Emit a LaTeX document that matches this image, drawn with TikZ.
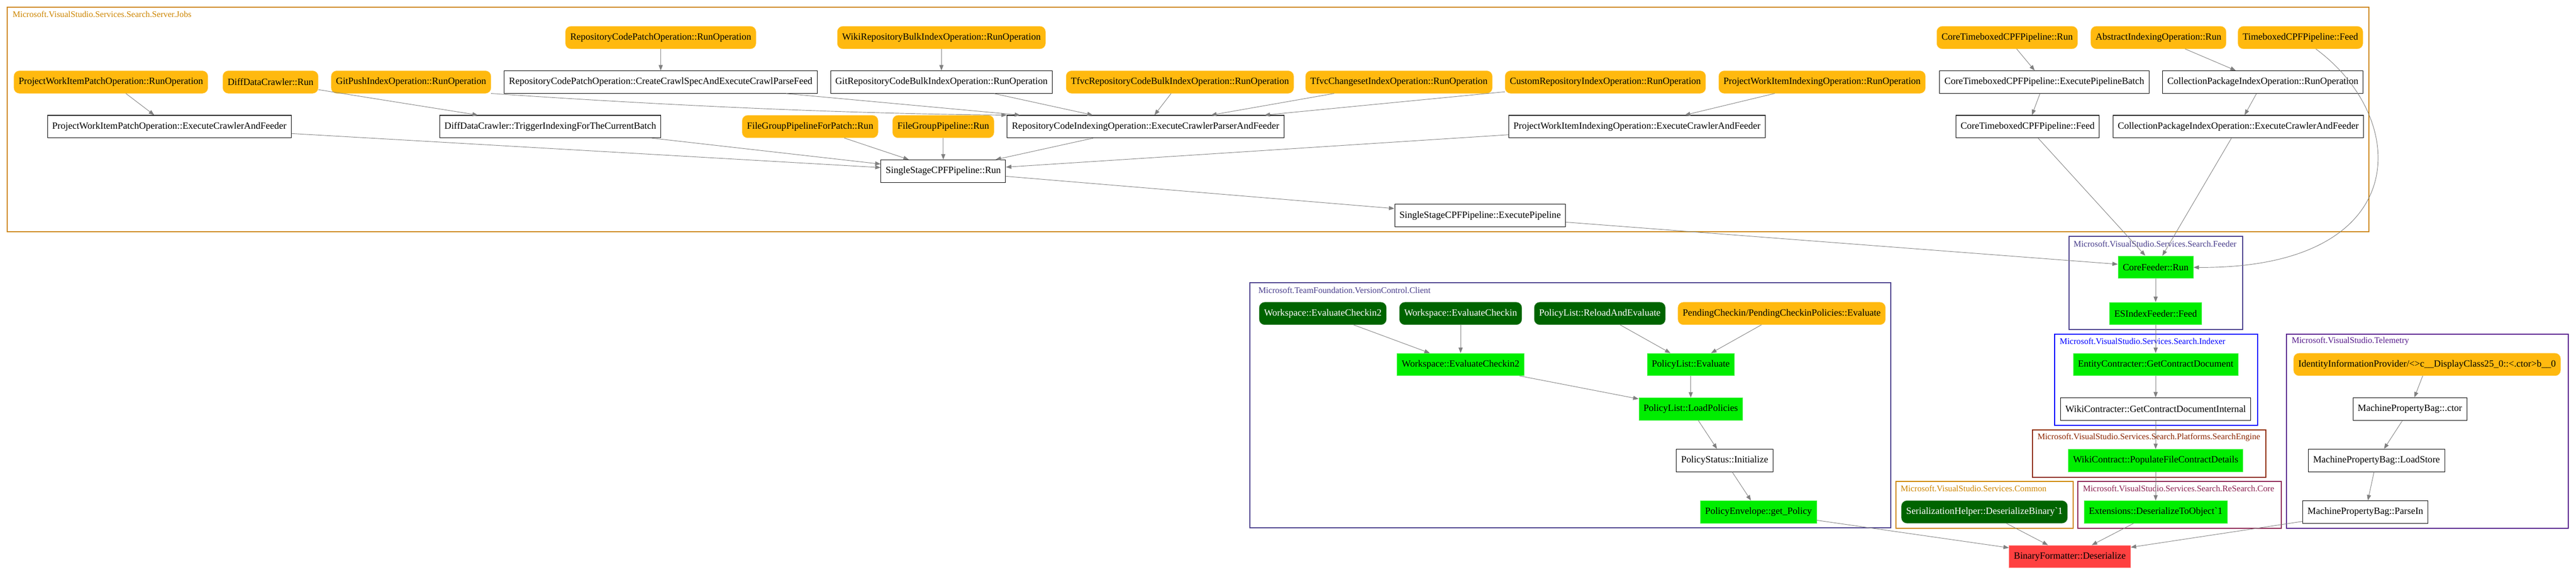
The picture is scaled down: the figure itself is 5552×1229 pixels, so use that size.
\documentclass[tikz,border=0pt]{standalone}
\usepackage{fontspec}
\setmainfont{Liberation Serif}
\usetikzlibrary{arrows.meta}
\usepackage{xcolor}
\definecolor{jobsorange}{RGB}{205,133,0}
\definecolor{slateblue}{RGB}{72,61,139}
\definecolor{indexblue}{RGB}{0,0,255}
\definecolor{enginebrown}{RGB}{139,37,0}
\definecolor{researchred}{RGB}{139,34,82}
\definecolor{telepurple}{RGB}{85,26,139}
\definecolor{entryorange}{RGB}{255,185,15}
\definecolor{externgreen}{RGB}{0,100,0}
\definecolor{hitgreen}{RGB}{0,238,0}
\definecolor{sinkred}{RGB}{255,64,64}
\definecolor{edgegray}{RGB}{128,128,128}

\begin{document}
\begin{tikzpicture}[x=0.68pt, y=-0.68pt]
    % Define styles
    \tikzstyle{plain} = [rectangle, draw=black, fill=white, line width=0.8pt, minimum height=33pt, inner xsep=7pt, font=\fontsize{14}{16}\selectfont]
    \tikzstyle{entry} = [rectangle, draw=entryorange!70!white, fill=entryorange, rounded corners=8pt, minimum height=33pt, inner xsep=7pt, font=\fontsize{14}{16}\selectfont]
    \tikzstyle{extern} = [rectangle, draw=externgreen!70!white, fill=externgreen, text=white, rounded corners=8pt, minimum height=33pt, inner xsep=7pt, font=\fontsize{14}{16}\selectfont]
    \tikzstyle{hit} = [rectangle, draw=hitgreen!60!white, fill=hitgreen, minimum height=33pt, inner xsep=7pt, font=\fontsize{14}{16}\selectfont]
    \tikzstyle{sink} = [rectangle, draw=sinkred!60!white, fill=sinkred, minimum height=33pt, inner xsep=7pt, font=\fontsize{14}{16}\selectfont]
    \tikzstyle{cluster} = [line width=1.5pt]
    \tikzstyle{title} = [anchor=west, inner sep=0pt, font=\fontsize{12.6}{14}\selectfont]
    \tikzstyle{arrow} = [draw=edgegray, line width=0.7pt, ->, >={Stealth[inset=0pt, length=8pt, width=6pt]}]

    \path [use as bounding box, fill=white] (0,0) rectangle (5552,1229);

    % Clusters
    \draw [cluster, jobsorange] (16,16) rectangle (5105,500);
    \node (jobsname) [title, text=jobsorange] at (27,31) {Microsoft.VisualStudio.Services.Search.Server.Jobs};
    \draw [cluster, slateblue] (2694,610) rectangle (4075,1138);
    \node (vcname) [title, text=slateblue] at (2712,626) {Microsoft.TeamFoundation.VersionControl.Client};
    \draw [cluster, slateblue] (4459,510) rectangle (4834,711);
    \node (feedername) [title, text=slateblue] at (4469,526) {Microsoft.VisualStudio.Services.Search.Feeder};
    \draw [cluster, indexblue] (4428,721) rectangle (4866,917);
    \node (indexername) [title, text=indexblue] at (4439,736) {Microsoft.VisualStudio.Services.Search.Indexer};
    \draw [cluster, enginebrown] (4381,927) rectangle (4884,1029);
    \node (enginename) [title, text=enginebrown] at (4391,943) {Microsoft.VisualStudio.Services.Search.Platforms.SearchEngine};
    \draw [cluster, jobsorange] (4086,1038) rectangle (4468,1139);
    \node (commonname) [title, text=jobsorange] at (4096,1053) {Microsoft.VisualStudio.Services.Common};
    \draw [cluster, researchred] (4478,1038) rectangle (4917,1139);
    \node (researchname) [title, text=researchred] at (4489,1053) {Microsoft.VisualStudio.Services.Search.ReSearch.Core};
    \draw [cluster, telepurple] (4928,721) rectangle (5535,1139);
    \node (telename) [title, text=telepurple] at (4939,736) {Microsoft.VisualStudio.Telemetry};

    % Jobs, layer 1
    \node (rcpRun) [entry] at (1424,81) {RepositoryCodePatchOperation::RunOperation};
    \node (wikiRun) [entry] at (2029,81) {WikiRepositoryBulkIndexOperation::RunOperation};
    \node (ctcRun) [entry] at (4326,81) {CoreTimeboxedCPFPipeline::Run};
    \node (absRun) [entry] at (4652,81) {AbstractIndexingOperation::Run};
    \node (tbFeed) [entry] at (4958,81) {TimeboxedCPFPipeline::Feed};

    % Jobs, layer 2
    \node (pwpRun) [entry] at (239,177) {ProjectWorkItemPatchOperation::RunOperation};
    \node (diffRun) [entry] at (583,177) {DiffDataCrawler::Run};
    \node (gitPush) [entry] at (886,177) {GitPushIndexOperation::RunOperation};
    \node (rcpCrawl) [plain] at (1424,177) {RepositoryCodePatchOperation::CreateCrawlSpecAndExecuteCrawlParseFeed};
    \node (gitBulk) [plain] at (2029,177) {GitRepositoryCodeBulkIndexOperation::RunOperation};
    \node (tfvcBulk) [entry] at (2543,177) {TfvcRepositoryCodeBulkIndexOperation::RunOperation};
    \node (tfvcChange) [entry] at (3015,177) {TfvcChangesetIndexOperation::RunOperation};
    \node (customRun) [entry] at (3460,177) {CustomRepositoryIndexOperation::RunOperation};
    \node (pwiRun) [entry] at (3927,177) {ProjectWorkItemIndexingOperation::RunOperation};
    \node (ctcBatch) [plain] at (4406,177) {CoreTimeboxedCPFPipeline::ExecutePipelineBatch};
    \node (cpiRun) [plain] at (4877,177) {CollectionPackageIndexOperation::RunOperation};

    % Jobs, layer 3
    \node (pwpFeed) [plain] at (365,273) {ProjectWorkItemPatchOperation::ExecuteCrawlerAndFeeder};
    \node (diffTrigger) [plain] at (1186,273) {DiffDataCrawler::TriggerIndexingForTheCurrentBatch};
    \node (fgpPatch) [entry] at (1746,273) {FileGroupPipelineForPatch::Run};
    \node (fgpRun) [entry] at (2033,273) {FileGroupPipeline::Run};
    \node (rciFeed) [plain] at (2469,273) {RepositoryCodeIndexingOperation::ExecuteCrawlerParserAndFeeder};
    \node (pwiFeed) [plain] at (3528,273) {ProjectWorkItemIndexingOperation::ExecuteCrawlerAndFeeder};
    \node (ctcFeed) [plain] at (4370,273) {CoreTimeboxedCPFPipeline::Feed};
    \node (cpiFeed) [plain] at (4824,273) {CollectionPackageIndexOperation::ExecuteCrawlerAndFeeder};

    % Jobs, layer 4 and 5
    \node (sscRun) [plain] at (2033,369) {SingleStageCPFPipeline::Run};
    \node (sscExec) [plain] at (3190,465) {SingleStageCPFPipeline::ExecutePipeline};

    % Feeder, Indexer, SearchEngine, ReSearch
    \node (coreFeeder) [hit] at (4646,576) {CoreFeeder::Run};
    \node (esFeed) [hit] at (4646,676) {ESIndexFeeder::Feed};
    \node (entityDoc) [hit] at (4646,786) {EntityContracter::GetContractDocument};
    \node (wikiDoc) [plain] at (4646,882) {WikiContracter::GetContractDocumentInternal};
    \node (wikiDetails) [hit] at (4646,993) {WikiContract::PopulateFileContractDetails};
    \node (extDeser) [hit] at (4646,1104) {Extensions::DeserializeToObject\textasciigrave 1};

    % Common and sink
    \node (serHelper) [extern] at (4277,1104) {SerializationHelper::DeserializeBinary\textasciigrave 1};
    \node (bfDeser) [sink] at (4461,1200) {BinaryFormatter::Deserialize};

    % Telemetry
    \node (identity) [entry] at (5231,786) {IdentityInformationProvider/<>c\_\_DisplayClass25\_0::<.ctor>b\_\_0};
    \node (mpbCtor) [plain] at (5194,882) {MachinePropertyBag::.ctor};
    \node (mpbLoad) [plain] at (5122,993) {MachinePropertyBag::LoadStore};
    \node (mpbParse) [plain] at (5098,1104) {MachinePropertyBag::ParseIn};

    % VersionControl.Client
    \node (wsCheckin2) [extern] at (2851,676) {Workspace::EvaluateCheckin2};
    \node (wsCheckin) [extern] at (3148,676) {Workspace::EvaluateCheckin};
    \node (plReload) [extern] at (3448,676) {PolicyList::ReloadAndEvaluate};
    \node (pendEval) [entry] at (3840,676) {PendingCheckin/PendingCheckinPolicies::Evaluate};
    \node (wsEval2) [hit] at (3148,786) {Workspace::EvaluateCheckin2};
    \node (plEval) [hit] at (3644,786) {PolicyList::Evaluate};
    \node (plLoad) [hit] at (3644,882) {PolicyList::LoadPolicies};
    \node (psInit) [plain] at (3717,993) {PolicyStatus::Initialize};
    \node (peGet) [hit] at (3790,1104) {PolicyEnvelope::get\_Policy};

    % Dependencies
    \draw [arrow] (rcpRun) -- (rcpCrawl);
    \draw [arrow] (wikiRun) -- (gitBulk);
    \draw [arrow] (pwpRun) -- (pwpFeed);
    \draw [arrow] (diffRun) -- (diffTrigger);
    \draw [arrow] (gitPush.south east) .. controls (1400,225) and (1800,245) .. (rciFeed.north west);
    \draw [arrow] (rcpCrawl) -- (rciFeed);
    \draw [arrow] (gitBulk) -- (rciFeed);
    \draw [arrow] (tfvcBulk) -- (rciFeed);
    \draw [arrow] (tfvcChange) -- (rciFeed);
    \draw [arrow] (customRun) -- (rciFeed);
    \draw [arrow] (pwiRun) -- (pwiFeed);
    \draw [arrow] (pwpFeed) -- (sscRun);
    \draw [arrow] (diffTrigger) -- (sscRun);
    \draw [arrow] (fgpPatch) -- (sscRun);
    \draw [arrow] (fgpRun) -- (sscRun);
    \draw [arrow] (rciFeed) -- (sscRun);
    \draw [arrow] (pwiFeed) -- (sscRun);
    \draw [arrow] (sscRun) -- (sscExec);
    \draw [arrow] (sscExec) -- (coreFeeder);
    \draw [arrow] (ctcRun) -- (ctcBatch);
    \draw [arrow] (absRun) -- (cpiRun);
    \draw [arrow] (ctcBatch) -- (ctcFeed);
    \draw [arrow] (cpiRun) -- (cpiFeed);
    \draw [arrow] (ctcFeed) -- (coreFeeder);
    \draw [arrow] (cpiFeed) -- (coreFeeder);
    \draw [arrow] (tbFeed) .. controls (5200,260) and (5200,580) .. (coreFeeder);
    \draw [arrow] (coreFeeder) -- (esFeed);
    \draw [arrow] (esFeed) -- (entityDoc);
    \draw [arrow] (entityDoc) -- (wikiDoc);
    \draw [arrow] (wikiDoc) -- (wikiDetails);
    \draw [arrow] (wikiDetails) -- (extDeser);
    \draw [arrow] (extDeser) -- (bfDeser);
    \draw [arrow] (serHelper) -- (bfDeser);
    \draw [arrow] (peGet) -- (bfDeser);
    \draw [arrow] (mpbParse) -- (bfDeser);
    \draw [arrow] (identity) -- (mpbCtor);
    \draw [arrow] (mpbCtor) -- (mpbLoad);
    \draw [arrow] (mpbLoad) -- (mpbParse);
    \draw [arrow] (wsCheckin2) -- (wsEval2);
    \draw [arrow] (wsCheckin) -- (wsEval2);
    \draw [arrow] (plReload) -- (plEval);
    \draw [arrow] (pendEval) -- (plEval);
    \draw [arrow] (wsEval2) -- (plLoad);
    \draw [arrow] (plEval) -- (plLoad);
    \draw [arrow] (plLoad) -- (psInit);
    \draw [arrow] (psInit) -- (peGet);
\end{tikzpicture}
\end{document}
